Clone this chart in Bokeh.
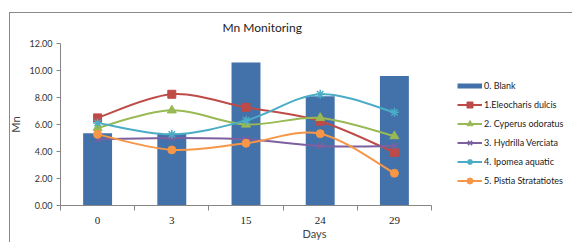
from bokeh.plotting import figure
from bokeh.models import (Range1d, FixedTicker, Legend, LegendItem, InlineStyleSheet,
                          NumeralTickFormatter)
from bokeh.embed import file_html
from bokeh.resources import INLINE

days = ["0", "3", "15", "24", "29"]
blank = [5.35, 5.3, 10.6, 8.1, 9.6]
eleocharis = [6.49, 8.24, 7.27, 6.24, 3.93]
cyperus = [5.75, 7.05, 6.0, 6.49, 5.14]
hydrilla = [4.9, 5.0, 4.9, 4.41, 4.4]
ipomea = [6.12, 5.27, 6.3, 8.24, 6.9]
pistia = [5.27, 4.12, 4.61, 5.32, 2.39]

series_names = ["0. Blank", "1.Eleocharis dulcis", "2. Cyperus odoratus",
                "3. Hydrilla Verciata", "4. Ipomea aquatic", "5. Pistia Stratatiotes"]

BAR = "#4371AA"
line_series = [
    (eleocharis, "#BE4B48", "square", 8),
    (cyperus, "#98B954", "triangle", 9),
    (hydrilla, "#7D60A0", "x", 8),
    (ipomea, "#4BACC6", "asterisk", 9),
    (pistia, "#F79646", "circle", 8),
]

ncat = len(days)
xpos = [i + 0.5 for i in range(ncat)]

# plot area spans 371 px for the categories; the frame extends right to hold the legend
W, H = 572, 242
LEFT, RIGHT, TOP, BOTTOM = 60, 4, 43, 35
frame_w = W - LEFT - RIGHT
x_end = ncat * frame_w / 371.0

p = figure(width=W, height=H, x_range=Range1d(0, x_end), y_range=Range1d(0, 12),
           output_backend="svg", toolbar_location=None,
           min_border_left=LEFT, min_border_right=RIGHT, min_border_top=TOP, min_border_bottom=BOTTOM)
p.outline_line_color = None
p.xgrid.visible = False
p.ygrid.visible = False
p.background_fill_color = "white"
p.border_fill_color = "white"

# outer chart border (top and left edges visible)
p.stylesheets = [InlineStyleSheet(css=(
    ":host::after { content: ''; position: absolute; left: 9px; top: 12px; right: 0; bottom: 0;"
    " border-top: 1px solid #8a8a8a; border-left: 1px solid #8a8a8a; pointer-events: none; }"
))]

# title
p.title.text = "Mn Monitoring"
p.title.align = "left"
p.title.offset = 162
p.title.text_font = "Lato"
p.title.text_font_size = "12px"
p.title.text_font_style = "normal"
p.title.text_color = "#222222"
p.title.standoff = 17

# bars
bar_r = p.vbar(x=xpos, top=blank, width=0.39, color=BAR, line_color=None)
bar_proxy = p.line(x=[float("nan")], y=[float("nan")], line_color=BAR, line_width=5)

# smooth lines via bezier segments (Catmull-Rom control points)
items = [LegendItem(label=series_names[0], renderers=[bar_proxy])]
n = len(xpos)
for k, (vals, col, mk, sz) in enumerate(line_series):
    x0s, y0s, x1s, y1s, cx0, cy0, cx1, cy1 = [], [], [], [], [], [], [], []
    for i in range(n - 1):
        a = max(i - 1, 0)
        d = min(i + 2, n - 1)
        x0s.append(xpos[i]); y0s.append(vals[i])
        x1s.append(xpos[i + 1]); y1s.append(vals[i + 1])
        cx0.append(xpos[i] + (xpos[i + 1] - xpos[a]) / 6)
        cy0.append(vals[i] + (vals[i + 1] - vals[a]) / 6)
        cx1.append(xpos[i + 1] - (xpos[d] - xpos[i]) / 6)
        cy1.append(vals[i + 1] - (vals[d] - vals[i]) / 6)
    br = p.bezier(x0=x0s, y0=y0s, x1=x1s, y1=y1s, cx0=cx0, cy0=cy0, cx1=cx1, cy1=cy1,
                  line_color=col, line_width=2)
    if mk in ("x", "asterisk"):
        sr = p.scatter(x=xpos, y=vals, marker=mk, size=sz, line_color=col, line_width=1.5)
    else:
        sr = p.scatter(x=xpos, y=vals, marker=mk, size=sz, fill_color=col, line_color=col)
    items.append(LegendItem(label=series_names[k + 1], renderers=[br, sr]))

legend = Legend(items=items, location=(397, 17), padding=0, margin=0, spacing=4,
                glyph_height=15, label_height=15, glyph_width=25, label_standoff=2,
                border_line_color=None, background_fill_alpha=0,
                label_text_font="Lato", label_text_font_size="9px", label_text_color="#222222")
p.add_layout(legend)

# axes
AX = "#868686"
p.yaxis.ticker = FixedTicker(ticks=[0, 2, 4, 6, 8, 10, 12])
p.yaxis.formatter = NumeralTickFormatter(format="0.00")
p.yaxis.axis_label = "Mn"
p.yaxis.axis_label_text_font = "Lato"
p.yaxis.axis_label_text_font_size = "11px"
p.yaxis.axis_label_text_font_style = "normal"
p.yaxis.axis_label_standoff = 4
p.yaxis.major_label_text_font = "Lato"
p.yaxis.major_label_text_font_size = "9px"
p.yaxis.major_label_text_color = "#333333"
p.yaxis.major_tick_out = 4
p.yaxis.major_tick_in = 0
p.yaxis.minor_tick_out = 0
p.yaxis.minor_tick_in = 0
p.yaxis.axis_line_color = AX
p.yaxis.major_tick_line_color = AX
p.yaxis.major_label_standoff = 4

p.xaxis.bounds = (0, ncat)
p.xaxis.ticker = FixedTicker(ticks=xpos, minor_ticks=list(range(ncat + 1)))
p.xaxis.major_label_overrides = {x: d for x, d in zip(xpos, days)}
p.xaxis.major_tick_out = 0
p.xaxis.major_tick_in = 0
p.xaxis.minor_tick_out = 5
p.xaxis.minor_tick_in = 0
p.xaxis.minor_tick_line_color = AX
p.xaxis.axis_line_color = AX
p.xaxis.major_label_text_font = "Liberation Serif"
p.xaxis.major_label_text_font_size = "11px"
p.xaxis.major_label_text_color = "#222222"
p.xaxis.major_label_standoff = 6
p.xaxis.axis_label = "Days"
p.xaxis.axis_label_text_font = "Lato"
p.xaxis.axis_label_text_font_size = "11px"
p.xaxis.axis_label_text_font_style = "normal"
p.xaxis.axis_label_standoff = 0

open("out.html", "w").write(file_html(p, INLINE))
